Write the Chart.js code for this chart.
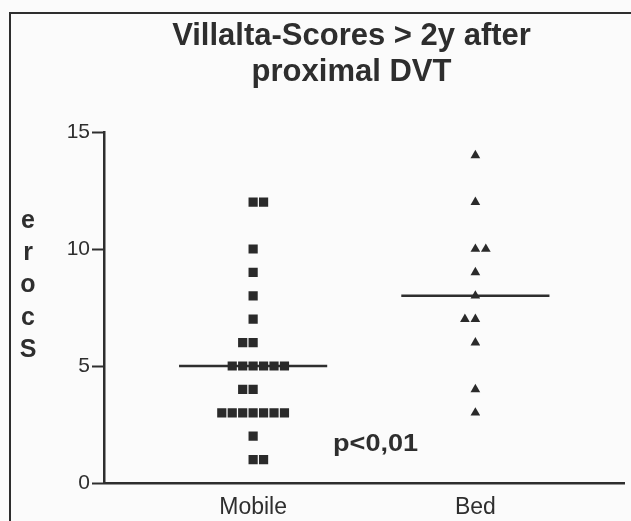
<!DOCTYPE html>
<html>
<head>
<meta charset="utf-8">
<script src="https://cdn.jsdelivr.net/npm/chart.js@4/dist/chart.umd.min.js"></script>
<style>
  html, body { margin: 0; padding: 0; background: #fbfbfb; }
  #wrap { width: 631px; height: 521px; position: relative; }
</style>
</head>
<body>
<div id="wrap"><canvas id="c"></canvas></div>
<script>
// ---- data ----
const categories = ['Mobile', 'Bed'];
const mobileScores = [12, 12, 10, 9, 8, 7, 6, 6, 5, 5, 5, 5, 5, 5, 4, 4, 3, 3, 3, 3, 3, 3, 3, 2, 1, 1];
const bedScores = [14, 12, 10, 10, 9, 8, 7, 7, 6, 4, 3];
const yTicks = [0, 5, 10, 15];
const titleLines = ['Villalta-Scores > 2y after', 'proximal DVT'];
const yAxisTitle = 'Score';
const pValueLabel = 'p<0,01';

// ---- layout helpers ----
const COL_STEP = 0.047;   // horizontal spacing between tied points (x units)
const HALF_MEDIAN = 1 / 3;

function median(arr) {
  const s = arr.slice().sort((a, b) => a - b);
  const m = Math.floor(s.length / 2);
  return s.length % 2 ? s[m] : (s[m - 1] + s[m]) / 2;
}

// spread tied values into columns (GraphPad-like), alternating even groups
function spread(values, center, startDir) {
  const groups = {};
  values.forEach(v => { (groups[v] = groups[v] || []).push(v); });
  const keys = Object.keys(groups).map(Number).sort((a, b) => a - b);
  const pts = [];
  let dir = startDir;
  keys.forEach(k => {
    const n = groups[k].length;
    let first;
    if (n % 2) { first = -(n - 1) / 2; }
    else { first = dir > 0 ? -(n / 2 - 1) : -n / 2; dir = -dir; }
    for (let i = 0; i < n; i++) pts.push({ x: center + (first + i) * COL_STEP, y: k });
  });
  return pts;
}

const mobilePts = spread(mobileScores, 1, +1);
const bedPts = spread(bedScores, 2, -1);
const medM = median(mobileScores);
const medB = median(bedScores);

const FONT = 'Liberation Sans, Arial, sans-serif';
const INK = '#2e2e2e';

const framePlugin = {
  id: 'frame',
  afterLayout(chart) {
    // centre the title over the plot region like the original
    if (chart.titleBlock) chart.titleBlock.left += 10;
  },
  beforeDraw(chart) {
    const ctx = chart.ctx;
    ctx.save();
    ctx.fillStyle = '#fbfbfb';
    ctx.fillRect(0, 0, chart.width, chart.height);
    ctx.strokeStyle = INK;
    ctx.lineWidth = 2;
    ctx.beginPath();
    ctx.moveTo(10, chart.height);
    ctx.lineTo(10, 13);
    ctx.lineTo(chart.width, 13);
    ctx.stroke();
    ctx.restore();
  },
  afterDraw(chart) {
    const ctx = chart.ctx;
    ctx.save();
    // stacked y-axis title (letters reversed, upright)
    ctx.fillStyle = INK;
    ctx.font = 'bold 25px ' + FONT;
    ctx.textAlign = 'center';
    ctx.textBaseline = 'middle';
    const letters = yAxisTitle.split('').reverse();
    const pitch = 32.4;
    const cy = 285.5;
    letters.forEach((ch, i) => {
      ctx.fillText(ch, 28, cy + (i - (letters.length - 1) / 2) * pitch);
    });
    // p-value annotation (wide bold face, as in the original)
    const xs = chart.scales.x, ys = chart.scales.y;
    const px = xs.getPixelForValue(1.551), py = ys.getPixelForValue(1.65);
    ctx.font = 'bold 23px ' + FONT;
    const w = ctx.measureText(pValueLabel).width;
    ctx.translate(px, py);
    ctx.scale(85 / w, 1);
    ctx.fillText(pValueLabel, 0, 0);
    ctx.restore();
  }
};

new Chart(document.getElementById('c'), {
  data: {
    datasets: [
      { type: 'scatter', label: categories[0], data: mobilePts, pointStyle: 'rect', pointRadius: 6.5,
        pointHoverRadius: 6.5, backgroundColor: '#2a2a2a', borderWidth: 0, order: 0 },
      { type: 'scatter', label: categories[1], data: bedPts, pointStyle: 'triangle', pointRadius: 5.6,
        pointHoverRadius: 5.6, backgroundColor: '#2a2a2a', borderWidth: 0, order: 0 },
      { type: 'line', label: 'median ' + categories[0], data: [{ x: 1 - HALF_MEDIAN, y: medM }, { x: 1 + HALF_MEDIAN, y: medM }],
        borderColor: INK, borderWidth: 2.5, pointRadius: 0, order: 1 },
      { type: 'line', label: 'median ' + categories[1], data: [{ x: 2 - HALF_MEDIAN, y: medB }, { x: 2 + HALF_MEDIAN, y: medB }],
        borderColor: INK, borderWidth: 2.5, pointRadius: 0, order: 1 }
    ]
  },
  options: {
    responsive: true,
    maintainAspectRatio: false,
    animation: false,
    events: [],
    layout: { padding: { left: 62, right: 0, top: 0, bottom: 0 } },
    plugins: {
      legend: { display: false },
      tooltip: { enabled: false },
      title: {
        display: true,
        text: titleLines,
        color: INK,
        font: { family: FONT, size: 31, weight: 'bold', lineHeight: 1.15 },
        padding: { top: 19, bottom: 41.7 }
      }
    },
    scales: {
      x: {
        type: 'linear',
        min: 0.329,
        max: 2.671,
        afterBuildTicks(scale) { scale.ticks = categories.map((c, i) => ({ value: i + 1 })); },
        afterFit(scale) { scale.height = 38; },
        ticks: {
          callback: (v) => categories[Math.round(v) - 1] || '',
          color: INK,
          font: { family: FONT, size: 23 },
          padding: 11,
          maxRotation: 0,
          autoSkip: false
        },
        grid: { display: false, drawTicks: false },
        border: { display: true, color: INK, width: 2.5 }
      },
      y: {
        type: 'linear',
        min: 0,
        max: 15,
        afterBuildTicks(scale) { scale.ticks = yTicks.map(v => ({ value: v })); },
        afterFit(scale) { scale.width = 42; },
        ticks: { color: INK, font: { family: FONT, size: 21 }, padding: 2 },
        grid: { display: true, drawOnChartArea: false, drawTicks: true, tickLength: 12, tickColor: INK, tickWidth: 2 },
        border: { display: true, color: INK, width: 2.5 }
      }
    }
  },
  plugins: [framePlugin]
});
</script>
</body>
</html>
